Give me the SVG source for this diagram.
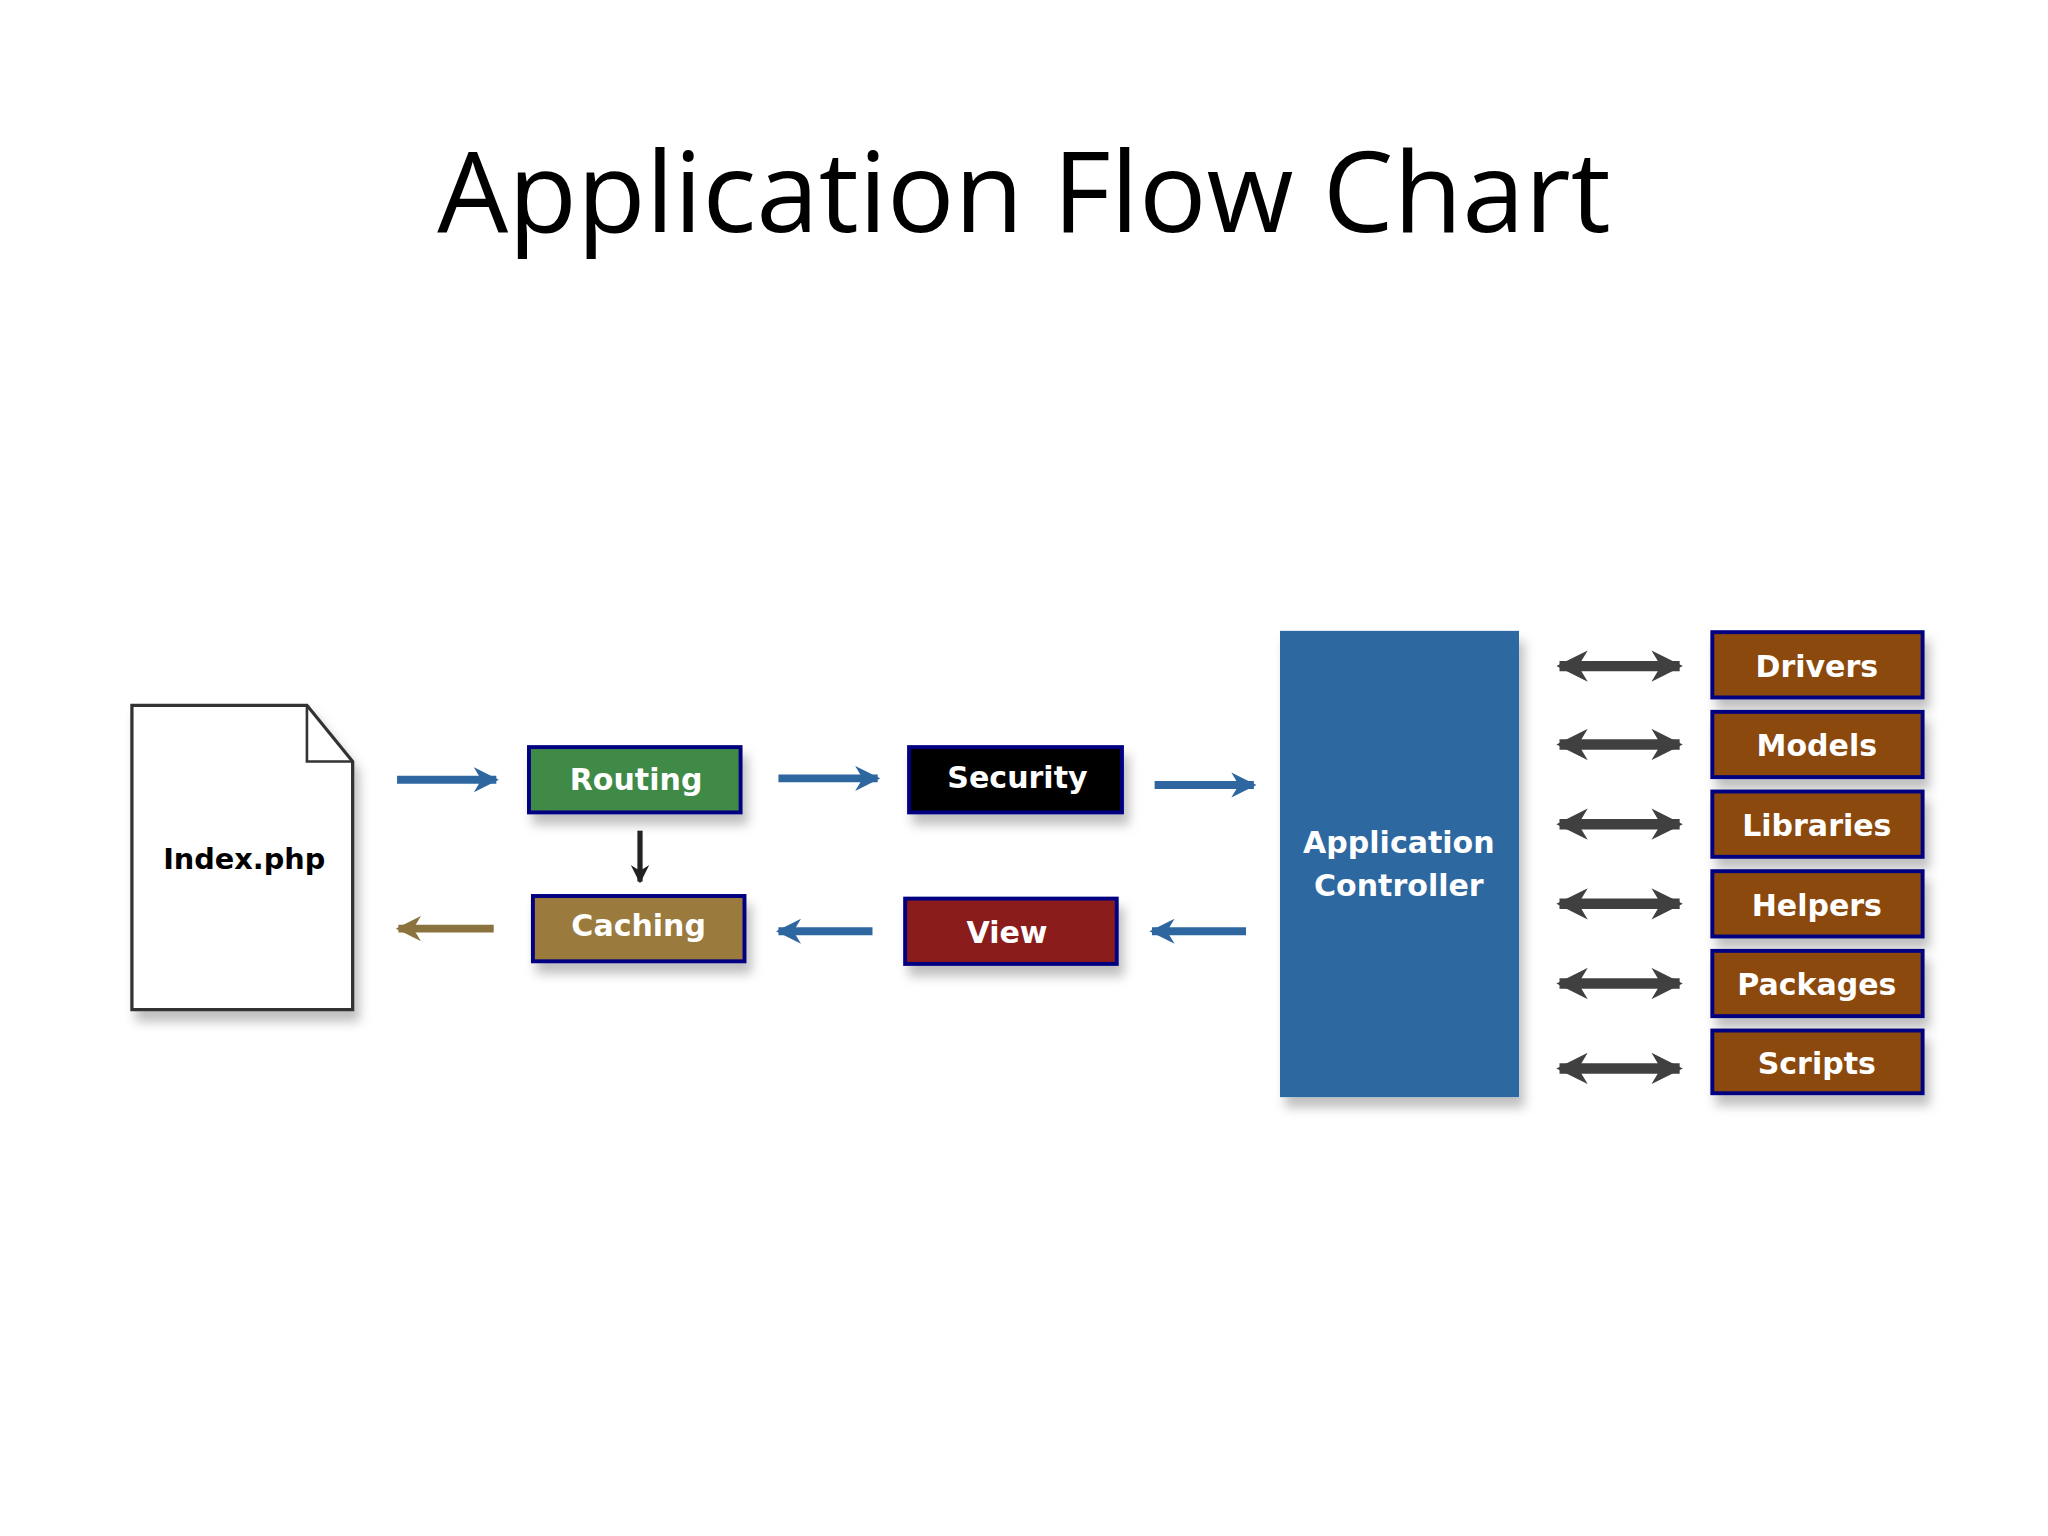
<svg xmlns="http://www.w3.org/2000/svg" width="2048" height="1536" viewBox="0 0 2048 1536">
<defs>
<filter id="sh" x="-20%" y="-20%" width="150%" height="160%"><feDropShadow dx="4" dy="8" stdDeviation="4" flood-color="#000" flood-opacity="0.25"/></filter>
<marker id="ab" viewBox="0 0 10 10" refX="9" refY="5" markerWidth="3.2" markerHeight="3.2" orient="auto-start-reverse"><path d="M0,0L10,5L0,10L3,5z" fill="#2e67a0"/></marker>
<marker id="abr" viewBox="0 0 10 10" refX="9" refY="5" markerWidth="3.2" markerHeight="3.2" orient="auto-start-reverse"><path d="M0,0L10,5L0,10L3,5z" fill="#8b7340"/></marker>
<marker id="ak" viewBox="0 0 10 10" refX="9" refY="5" markerWidth="3.5" markerHeight="3.5" orient="auto-start-reverse"><path d="M0,0L10,5L0,10L3,5z" fill="#222"/></marker>
<marker id="ag" viewBox="0 0 10 10" refX="9" refY="5" markerWidth="3" markerHeight="3" orient="auto-start-reverse"><path d="M0,0L10,5L0,10L3,5z" fill="#404040"/></marker>
</defs>
<style>
.box{stroke:#000080;stroke-width:3;filter:url(#sh)}
.t{font-family:"DejaVu Sans",sans-serif;font-weight:bold;font-size:23px;fill:#fff;text-anchor:middle}
.bl{stroke:#2e67a0;stroke-width:6;fill:none;marker-end:url(#ab)}
.dg{stroke:#404040;stroke-width:8;fill:none;marker-end:url(#ag);marker-start:url(#ag)}
.br{fill:#8b4a0b}
</style>
<rect width="2048" height="1536" fill="#fff"/>
<g transform="scale(1.30612)">
<text x="784" y="178" font-family="'Open Sans',sans-serif" font-size="86" text-anchor="middle" fill="#000">Application Flow Chart</text>
<g id="index"><path d="M101,540H235L270,583V773H101Z" fill="#fff" stroke="#333" stroke-width="2.5" filter="url(#sh)"/><path d="M235,540V583H270" fill="none" stroke="#333" stroke-width="2"/><text x="187" y="665" font-family="'DejaVu Sans',sans-serif" font-weight="bold" font-size="22" text-anchor="middle">Index.php</text></g>
<g id="routing"><rect class="box" x="405" y="572" width="162" height="50" fill="#3f8a47"/><text class="t" x="487" y="605">Routing</text></g>
<g id="security"><rect class="box" x="696" y="572" width="163" height="50" fill="#000"/><text class="t" x="779" y="603">Security</text></g>
<g id="caching"><rect class="box" x="408" y="686" width="162" height="50" fill="#9a7a3c"/><text class="t" x="489" y="717">Caching</text></g>
<g id="view"><rect class="box" x="693" y="688" width="162" height="50" fill="#8b1a1a"/><text class="t" x="771" y="722">View</text></g>
<g id="controller"><rect x="980" y="483" width="183" height="357" fill="#2e67a0" filter="url(#sh)"/><text class="t" x="1071" y="653">Application</text><text class="t" x="1071" y="686">Controller</text></g>
<g id="drivers"><rect class="box br" x="1311" y="484" width="161" height="50"/><text class="t" x="1391" y="518">Drivers</text></g>
<g id="models"><rect class="box br" x="1311" y="545" width="161" height="50"/><text class="t" x="1391" y="579">Models</text></g>
<g id="libraries"><rect class="box br" x="1311" y="606" width="161" height="50"/><text class="t" x="1391" y="640">Libraries</text></g>
<g id="helpers"><rect class="box br" x="1311" y="667" width="161" height="50"/><text class="t" x="1391" y="701">Helpers</text></g>
<g id="packages"><rect class="box br" x="1311" y="728" width="161" height="50"/><text class="t" x="1391" y="762">Packages</text></g>
<g id="scripts"><rect class="box br" x="1311" y="789" width="161" height="48"/><text class="t" x="1391" y="822">Scripts</text></g>
<g id="connectors">
<path class="bl" d="M304,597H380"/>
<path class="bl" d="M596,596H672"/>
<path class="bl" d="M884,601H960"/>
<path class="bl" d="M954,713H882"/>
<path class="bl" d="M668,713H596"/>
<path d="M378,711H305" stroke="#8b7340" stroke-width="6" marker-end="url(#abr)"/>
<path d="M490,636V675" stroke="#222" stroke-width="4" marker-end="url(#ak)"/>
<path class="dg" d="M1194,510H1286"/>
<path class="dg" d="M1194,570H1286"/>
<path class="dg" d="M1194,631H1286"/>
<path class="dg" d="M1194,692H1286"/>
<path class="dg" d="M1194,753H1286"/>
<path class="dg" d="M1194,818H1286"/>
</g>
</g>
</svg>
